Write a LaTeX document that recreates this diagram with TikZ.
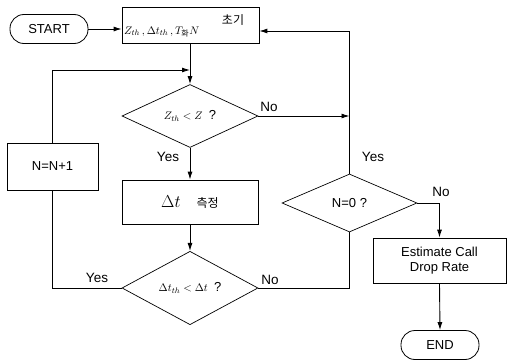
\documentclass[tikz,border=0pt]{standalone}
\usepackage{fontspec}
\setmainfont{Liberation Sans}
\newfontfamily\kr{Noto Sans CJK KR}
\usetikzlibrary{shapes.geometric,arrows.meta}
\begin{document}
\begin{tikzpicture}[x=1pt,y=-1pt,
  every node/.style={font=\fontsize{13}{15}\selectfont},
  conn/.style={line width=0.9pt},
  arr/.style={conn,-{Latex[length=8pt,width=5pt]}},
  term/.style={draw,line width=0.8pt,rounded corners=14pt,minimum width=78pt,minimum height=29pt,inner sep=0pt},
  procbox/.style={draw,line width=0.8pt,inner sep=0pt},
  decide/.style={draw,diamond,line width=0.7pt,inner sep=0pt},
  mathtxt/.style={font=\fontsize{11}{13}\selectfont},
  lbl/.style={inner sep=0pt,font=\fontsize{13.5}{15}\selectfont}]
\useasboundingbox (0,0) rectangle (507,364);
% nodes
\node[term] (start) at (49,29) {START};
\node[procbox,minimum width=137pt,minimum height=36pt] (init) at (190.5,25) {};
\node[inner sep=0pt,anchor=west,mathtxt] (inittxt) at (124,32) {$Z_{th}\,,\Delta t_{th}\,,T_{\hbox{\kr\fontsize{8}{8}\selectfont 화}}N$};
\node[inner sep=0pt,font=\kr\fontsize{12}{14}\selectfont] (initkr) at (233,20) {초기};
\node[decide,minimum width=136pt,minimum height=56pt,mathtxt] (d1) at (190,116) {$Z_{th}<Z$\ \ \fontsize{13}{15}\selectfont ?};
\node[procbox,minimum width=136pt,minimum height=44pt] (meas) at (190,202) {\fontsize{16}{16}\selectfont$\Delta t$\quad{\kr\fontsize{12}{14}\selectfont 측정}};
\node[decide,minimum width=136pt,minimum height=56pt,mathtxt] (d2) at (190,288) {$\Delta t_{th}<\Delta t$\ \ \fontsize{13}{15}\selectfont ?};
\node[procbox,minimum width=91pt,minimum height=47pt] (inc) at (52.5,166.5) {N=N+1};
\node[decide,minimum width=135pt,minimum height=58pt] (d3) at (349.5,203) {N=0 ?};
\node[procbox,minimum width=133pt,minimum height=45pt,align=center] (est) at (439.5,260.5) {Estimate Call\\Drop Rate};
\node[term] (end) at (440,345) {END};
% coordinates
\coordinate (loopend) at (190,70);
\coordinate (rt) at (349.5,31);
% connectors
\draw[arr] (start.east) -- (start.east -| init.west);
\draw[arr] (init.south -| d1.north) -- (d1.north);
\draw[conn] (d2.west) -- (d2.west -| inc.south) -- (inc.south);
\draw[arr] (inc.north) |- (loopend);
\draw[arr] (d1.east) -- (d1.east -| d3.north);
\draw[arr] (d3.north) -- (rt) -- (rt -| init.east);
\draw[arr] (d1.south) -- (meas.north);
\draw[arr] (meas.south) -- (d2.north);
\draw[conn] (d2.east) -- (d2.east -| d3.south) -- (d3.south);
\draw[arr] (d3.east) -- (d3.east -| est.north) -- (est.north);
\draw[arr] (est.south) -- (end.north);
% labels
\node[lbl] (l1) at (269,107) {No};
\node[lbl] (l2) at (168,157) {Yes};
\node[lbl] (l3) at (97,278) {Yes};
\node[lbl] (l4) at (270,280) {No};
\node[lbl] (l5) at (373,157) {Yes};
\node[lbl] (l6) at (441,192) {No};
\end{tikzpicture}
\end{document}
